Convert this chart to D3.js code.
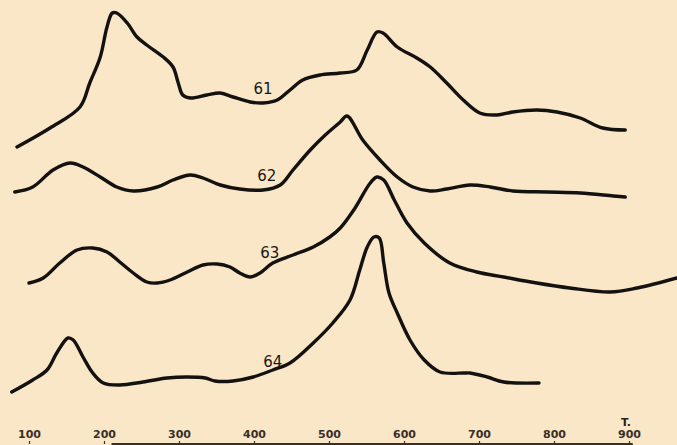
<!DOCTYPE html>
<html>
<head>
<meta charset="utf-8">
<script src="https://cdn.jsdelivr.net/npm/d3@7"></script>
<style>
  html, body { margin: 0; padding: 0; background: #f9e7c8; }
  svg { display: block; }
</style>
</head>
<body>
<div id="chart"></div>
<script>
const width = 677, height = 445;

// temperature (T) of each reading, and the curve's deflection at that T
const t61 = [84, 128, 168, 181, 195, 204, 211, 217, 231, 244, 257, 279, 292, 299, 305, 315, 337, 355, 372, 395, 412, 431, 448, 465, 488, 515, 537, 551, 564, 572, 591, 617, 635, 657, 679, 701, 724, 745, 777, 804, 835, 865, 895];
const v61 = [298, 317, 338, 362, 388, 418, 432, 432, 422, 408, 400, 388, 378, 362, 350, 347, 350, 352, 348, 343, 342, 345, 355, 365, 370, 372, 375, 395, 413, 412, 398, 387, 378, 362, 345, 332, 330, 333, 335, 333, 327, 317, 315];

const t62 = [81, 105, 132, 155, 172, 195, 217, 239, 271, 292, 315, 332, 355, 381, 412, 435, 452, 475, 495, 515, 524, 545, 568, 591, 612, 635, 657, 688, 715, 745, 791, 835, 879, 895];
const v62 = [253, 258, 275, 282, 278, 268, 258, 254, 258, 265, 270, 267, 260, 256, 255, 260, 275, 295, 310, 323, 329, 305, 285, 268, 258, 254, 256, 260, 258, 254, 253, 252, 249, 248];

const t63 = [100, 119, 141, 164, 185, 204, 221, 239, 257, 271, 288, 311, 332, 351, 368, 381, 395, 408, 425, 452, 479, 501, 515, 533, 555, 564, 573, 587, 604, 627, 661, 697, 733, 777, 821, 875, 911, 964];
const v63 = [162, 167, 182, 195, 197, 193, 183, 172, 163, 162, 165, 173, 180, 181, 178, 172, 168, 172, 182, 190, 198, 208, 217, 235, 262, 268, 265, 245, 222, 202, 182, 173, 168, 162, 157, 153, 157, 167];

const t64 = [77, 105, 124, 137, 152, 159, 172, 185, 199, 221, 252, 284, 311, 335, 348, 372, 399, 425, 448, 479, 505, 528, 541, 551, 560, 567, 573, 580, 591, 608, 627, 648, 680, 688, 711, 733, 780];
const v64 = [53, 65, 75, 92, 107, 105, 88, 72, 62, 60, 63, 67, 68, 67, 64, 64, 68, 75, 82, 102, 122, 145, 175, 198, 208, 207, 182, 152, 132, 105, 85, 73, 72, 72, 68, 63, 62];

const curveNames = ["61", "62", "63", "64"];
// where each curve's number is written (T, deflection)
const labelT = [412, 417, 421, 425];
const labelV = [351, 264, 187, 78];

const tickValues = [100, 200, 300, 400, 500, 600, 700, 800, 900];
const axisSpan = [210, 905];

const series = [
  { name: curveNames[0], t: t61, v: v61 },
  { name: curveNames[1], t: t62, v: v62 },
  { name: curveNames[2], t: t63, v: v63 },
  { name: curveNames[3], t: t64, v: v64 }
];

const x = d3.scaleLinear().domain([100, 900]).range([29, 629]);
const y = d3.scaleLinear().domain([0, 445]).range([445, 0]);

const svg = d3.select("#chart")
  .append("svg")
  .attr("width", width)
  .attr("height", height);

svg.append("rect")
  .attr("width", width)
  .attr("height", height)
  .attr("fill", "#f9e7c8");

const line = d3.line()
  .x(d => x(d[0]))
  .y(d => y(d[1]))
  .curve(d3.curveCatmullRom.alpha(0.5));

svg.selectAll("path.curve")
  .data(series)
  .join("path")
  .attr("class", "curve")
  .attr("d", s => line(d3.zip(s.t, s.v)))
  .attr("fill", "none")
  .attr("stroke", "#141210")
  .attr("stroke-width", 3.4)
  .attr("stroke-linecap", "round")
  .attr("stroke-linejoin", "round");

svg.selectAll("text.name")
  .data(series)
  .join("text")
  .attr("class", "name")
  .attr("x", (s, i) => x(labelT[i]))
  .attr("y", (s, i) => y(labelV[i]))
  .attr("text-anchor", "middle")
  .attr("font-family", "DejaVu Sans")
  .attr("font-size", 15)
  .attr("fill", "#1a1714")
  .text(s => s.name);

// temperature axis along the bottom edge, labels sit above it
const axis = svg.append("g")
  .attr("transform", `translate(0,444)`)
  .call(d3.axisTop(x).tickValues(tickValues).tickSize(3).tickPadding(3).tickFormat(d3.format("d")));

axis.select(".domain").remove();
axis.selectAll(".tick line").attr("stroke", "#3a2f26").attr("stroke-width", 1.2);
axis.selectAll(".tick text")
  .attr("font-family", "DejaVu Sans")
  .attr("font-size", 11)
  .attr("font-weight", "bold")
  .attr("fill", "#3a2f26");

axis.append("line")
  .attr("x1", x(axisSpan[0]))
  .attr("x2", x(axisSpan[1]))
  .attr("stroke", "#3a3029")
  .attr("stroke-width", 2);

svg.append("text")
  .attr("x", x(900) - 8)
  .attr("y", 426)
  .attr("font-family", "DejaVu Sans")
  .attr("font-size", 11)
  .attr("font-weight", "bold")
  .attr("fill", "#2a221c")
  .text("T.");
</script>
</body>
</html>
